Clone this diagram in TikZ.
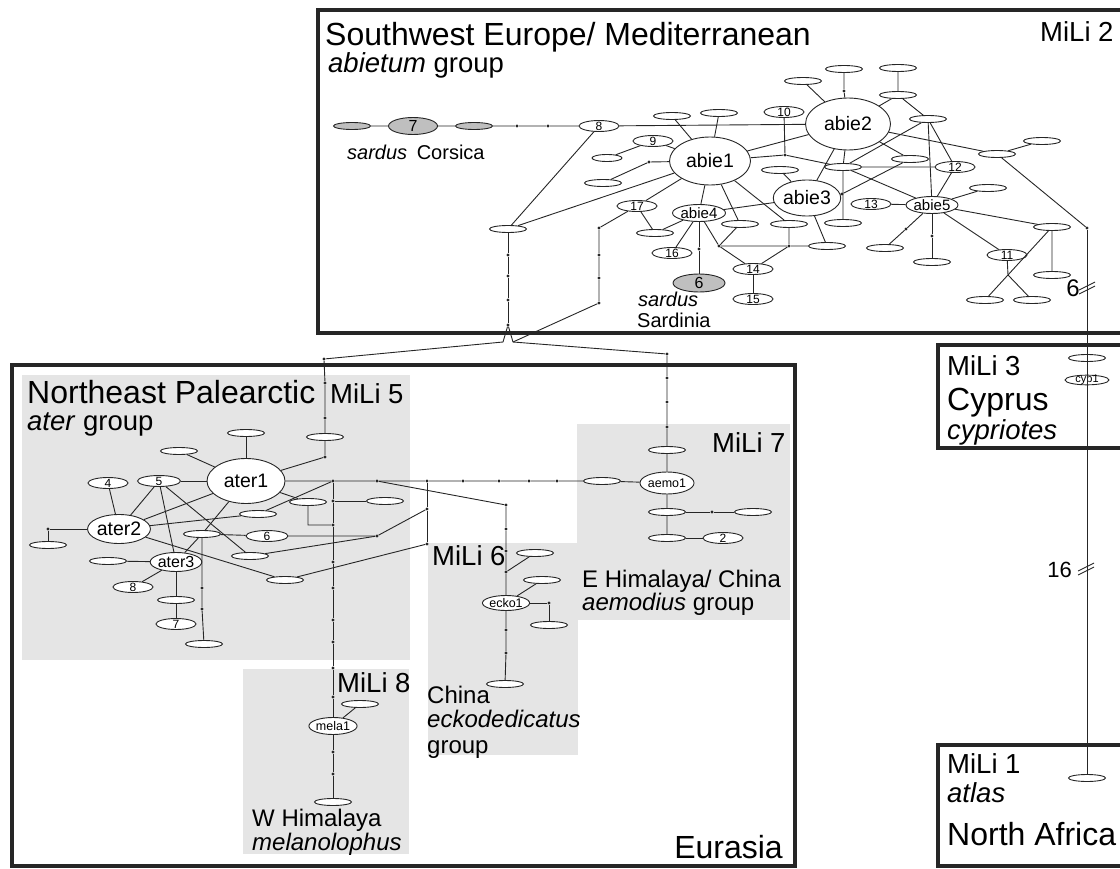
\documentclass[tikz,border=0pt]{standalone}
\usepackage{fontspec}
\setmainfont{Liberation Sans}
\usetikzlibrary{shapes.geometric}

\begin{document}
\begin{tikzpicture}[
  x=1pt, y=-1pt,
  lnk/.style={line width=0.9pt, draw=black!85},
  hap/.style={draw=black!85, ellipse, line width=0.9pt, fill=white, inner sep=0pt,
              minimum width=37pt, minimum height=7pt, font=\fontsize{12}{12}\selectfont},
  nhap/.style={hap, minimum width=40pt, minimum height=11pt, inner sep=-1pt},
  sard/.style={hap, fill=gray!50},
  bighap/.style={hap, font=\fontsize{19.5}{20}\selectfont},
  midhap/.style={hap, font=\fontsize{15}{15}\selectfont},
  smallhap/.style={hap, font=\fontsize{12.5}{13}\selectfont},
  dot/.style={circle, fill=black!85, inner sep=0pt, minimum size=3.2pt},
  frame/.style={line width=3.5pt, draw=black!85},
  zone/.style={fill=gray!20, draw=none},
  ttl/.style={anchor=base west, inner sep=0pt, font=\fontsize{32}{32}\selectfont},
  sub/.style={anchor=base west, inner sep=0pt, font=\fontsize{27.5}{28}\selectfont},
  reg/.style={anchor=base west, inner sep=0pt, font=\fontsize{24}{24}\selectfont},
  lab/.style={anchor=base west, inner sep=0pt, font=\fontsize{20}{20}\selectfont}
]
\useasboundingbox (0,0) rectangle (1120,869);
\clip (0,0) rectangle (1120,869);

% shaded groups and frames
\fill[zone] (22,375) rectangle (410,660);
\fill[zone] (577,424) rectangle (790,620);
\fill[zone] (428,543) rectangle (578,755);
\fill[zone] (243,669) rectangle (409,854);
\draw[frame] (318,10) rectangle (1140,333);
\draw[frame] (12,365) rectangle (795,866);
\draw[frame] (938,345) rectangle (1140,448);
\draw[frame] (938,745) rectangle (1140,866);

% labels
\node[ttl] (tSW) at (325,46) {Southwest Europe/ Mediterranean};
\node[sub] (tSWg) at (328,73) {\textit{abietum} group};
\node[sub] (tM2) at (1040,42) {MiLi 2};
\node[lab] (tCo) at (347,160) {\textit{sardus}\hspace{4pt} Corsica};
\node[lab] (tSa) at (638,306) {\textit{sardus}};
\node[lab] (tSb) at (637,327) {Sardinia};
\node[ttl] (tNE) at (27,403) {Northeast Palearctic};
\node[sub] (tM5) at (330,403) {MiLi 5};
\node[sub] (tNEg) at (27,430) {\textit{ater} group};
\node[sub] (tM7) at (712,452) {MiLi 7};
\node[sub] (tM6) at (432,565) {MiLi 6};
\node[reg] (tEH) at (582,587) {E Himalaya/ China};
\node[reg] (tEHg) at (582,610) {\textit{aemodius} group};
\node[reg] (tCh) at (427,703) {China};
\node[reg] (tChb) at (427,727) {\textit{eckodedicatus}};
\node[reg] (tChc) at (427,753) {group};
\node[sub] (tM8) at (337,692) {MiLi 8};
\node[reg] (tWH) at (252,826) {W Himalaya};
\node[reg] (tWHb) at (252,850) {\textit{melanolophus}};
\node[ttl, anchor=base east] (tEu) at (783,858) {Eurasia};
\node[sub] (tM3) at (947,375) {MiLi 3};
\node[ttl] (tCy) at (947,410) {Cyprus};
\node[sub] (tCyb) at (947,439) {\textit{cypriotes}};
\node[sub] (tM1) at (947,773) {MiLi 1};
\node[sub] (tM1b) at (947,802) {\textit{atlas}};
\node[ttl] (tNA) at (947,845) {North Africa};

% abietum network
\node[sard] (c1) at (352,126) {};
\node[sard, minimum width=49pt, minimum height=17pt, font=\fontsize{16}{16}\selectfont] (c7) at (413,126) {7};
\node[sard] (c2) at (474,126) {};
\node[dot] (cd1) at (517,126) {};
\node[dot] (cd2) at (548,126) {};
\node[nhap] (n8) at (599,126) {8};
\node[hap] (eA) at (508,229) {};
\node[bighap, minimum width=81pt, minimum height=48pt] (ab1) at (710,161) {abie1};
\node[bighap, minimum width=85pt, minimum height=52pt] (ab2) at (848,124) {abie2};
\node[bighap, minimum width=67pt, minimum height=36pt] (ab3) at (807,198) {abie3};
\node[midhap, minimum width=53pt, minimum height=17pt] (ab4) at (699,213) {abie4};
\node[midhap, minimum width=51pt, minimum height=17pt] (ab5) at (932,205) {abie5};
\node[nhap] (n9) at (653,141) {9};
\node[hap, minimum width=30pt] (eB) at (607,158) {};
\node[hap] (eC) at (603,183) {};
\node[dot] (dC) at (649,162) {};
\node[nhap] (n17) at (637,206) {17};
\node[hap] (eD) at (655,233) {};
\node[nhap] (n16) at (672,253) {16};
\node[dot] (d6) at (699,249) {};
\node[sard, minimum width=52pt, minimum height=18pt, font=\fontsize{16}{16}\selectfont] (s6) at (699,283) {6};
\node[hap] (eE) at (740,224) {};
\node[hap] (eF) at (789,224) {};
\node[dot] (jL) at (719,246) {};
\node[dot] (jR) at (789,246) {};
\node[hap] (eG) at (827,246) {};
\node[nhap] (n14) at (753,269) {14};
\node[nhap] (n15) at (753,299) {15};
\node[hap] (eH) at (672,116) {};
\node[hap] (eI) at (719,113) {};
\node[nhap] (n10) at (784,112) {10};
\node[dot] (d10) at (785,155) {};
\node[hap] (eJ) at (843,167) {};
\node[hap] (eK) at (780,170) {};
\node[hap] (eL) at (803,81) {};
\node[hap] (eM) at (844,69) {};
\node[dot] (dM) at (844,91) {};
\node[hap] (eN) at (898,68) {};
\node[hap] (eO) at (898,95) {};
\node[hap] (eP) at (928,119) {};
\node[nhap] (n12) at (955,167) {12};
\node[hap] (eQ) at (843,223) {};
\node[hap] (eR) at (910,159) {};
\node[dot] (dS) at (842,194) {};
\node[hap] (eT) at (997,154) {};
\node[hap] (eU) at (1042,141) {};
\node[dot] (dV) at (1087,228) {};
\node[nhap] (n13) at (871,204) {13};
\node[hap] (eW) at (988,188) {};
\node[hap] (eX) at (1052,227) {};
\node[hap] (eX2) at (1052,275) {};
\node[nhap] (n11) at (1007,255) {11};
\coordinate (j11) at (1008,275);
\node[hap] (eY) at (885,248) {};
\node[dot] (dY) at (906,229) {};
\node[hap] (eZ) at (932,262) {};
\node[dot] (dZ) at (932,236) {};
\node[hap] (eBL) at (985,300) {};
\node[hap] (eBR) at (1032,300) {};

% links between the groups
\node[dot] (dA1) at (508,255) {};
\node[dot] (dA2) at (508,276) {};
\node[dot] (dA3) at (508,300) {};
\node[dot] (dA4) at (508,325) {};
\node[dot] (dR1) at (599,228) {};
\node[dot] (dR2) at (599,255) {};
\node[dot] (dR3) at (599,278) {};
\node[dot] (dR4) at (599,303) {};
\coordinate (fL) at (503,342);
\coordinate (fR) at (513,342);
\node[dot] (pL) at (324,359) {};
\node[dot] (pR) at (667,354) {};
\node[dot] (dP1) at (325,383) {};
\node[dot] (dP2) at (325,418) {};
\node[hap] (e5a) at (325,437) {};
\node[dot] (dP3) at (325,457) {};
\node[dot] (dQ1) at (667,378) {};
\node[dot] (dQ2) at (667,402) {};
\node[dot] (dQ3) at (667,427) {};

% aemodius
\node[hap] (e7a) at (667,450) {};
\node[smallhap, minimum width=54pt, minimum height=22pt] (am1) at (667,483) {aemo1};
\node[hap] (e7b) at (667,512) {};
\node[hap] (e7c) at (667,538) {};
\node[dot] (dQ4) at (712,512) {};
\node[hap] (e7d) at (753,512) {};
\node[nhap] (n2) at (723,538) {2};
\node[hap] (e7e) at (602,481) {};
\node[dot] (dH1) at (557,481) {};
\node[dot] (dH2) at (529,481) {};
\node[dot] (dH3) at (499,481) {};
\node[dot] (dH4) at (463,481) {};
\node[dot] (j427) at (427,481) {};
\node[dot] (j377) at (377,481) {};
\node[dot] (j333) at (333,481) {};

% ater
\node[bighap, minimum width=78pt, minimum height=45pt] (at1) at (246,481) {ater1};
\node[bighap, minimum width=60pt, minimum height=29pt] (at2) at (119,529) {ater2};
\node[hap, font=\fontsize{16}{16}\selectfont, minimum width=51pt, minimum height=19pt] (at3) at (176,562) {ater3};
\node[hap] (e5b) at (246,433) {};
\node[hap] (e5c) at (179,451) {};
\node[nhap, minimum width=43pt] (n5) at (159,481) {5};
\node[nhap] (n4) at (108,483) {4};
\node[hap] (e5d) at (250,556) {};
\node[hap] (e5e) at (258,514) {};
\node[dot] (jW) at (48,529) {};
\node[hap] (e5f) at (48,545) {};
\node[hap] (e5g) at (285,580) {};
\node[hap] (e5h) at (108,561) {};
\node[nhap] (n8b) at (133,587) {8};
\node[hap] (e5i) at (176,600) {};
\node[nhap] (n7b) at (176,624) {7};
\node[hap] (e5j) at (202,534) {};
\node[dot] (dJ1) at (202,588) {};
\node[dot] (dJ2) at (202,609) {};
\node[hap] (e5k) at (204,644) {};
\node[nhap, minimum width=42pt] (n6b) at (267,536) {6};
\node[dot] (dK) at (377,536) {};
\node[dot] (dK2) at (427,509) {};
\node[dot] (dK3) at (427,544) {};
\node[hap] (e5l) at (385,501) {};
\node[hap] (e5m) at (308,502) {};
\coordinate (jM) at (308,525);

% melanolophus
\node[dot] (dV1) at (333,501) {};
\node[dot] (dV2) at (333,525) {};
\node[dot] (dV3) at (333,562) {};
\node[dot] (dV4) at (333,588) {};
\node[dot] (dV5) at (333,620) {};
\node[dot] (dV6) at (333,642) {};
\node[dot] (dV7) at (333,668) {};
\node[dot] (dV8) at (333,697) {};
\node[smallhap, minimum width=44pt, minimum height=17pt] (ml1) at (333,726) {mela1};
\node[dot] (dV9) at (333,752) {};
\node[dot] (dV10) at (333,774) {};
\node[hap] (e8a) at (333,802) {};
\node[hap] (e8b) at (360,704) {};

% eckodedicatus
\node[dot] (dE0) at (506,505) {};
\node[dot] (dE1) at (506,529) {};
\node[dot] (dE2) at (506,551) {};
\node[dot] (dE3) at (506,572) {};
\node[smallhap, minimum width=44pt, minimum height=15pt] (ec1) at (506,603) {ecko1};
\node[hap] (e6a) at (535,553) {};
\node[hap] (e6b) at (542,580) {};
\node[dot] (jE) at (549,603) {};
\node[hap] (e6c) at (549,625) {};
\node[dot] (dE4) at (506,630) {};
\node[dot] (dE5) at (506,653) {};
\node[hap] (e6d) at (505,684) {};

% cypriotes and atlas
\node[hap] (cy0) at (1087,358) {};
\node[hap, minimum width=44pt, minimum height=9pt, inner sep=-1.5pt, font=\fontsize{11}{11}\selectfont] (cy1) at (1087,380) {cyp1};
\node[hap] (na1) at (1087,778) {};
\coordinate (m6) at (1087,287);
\coordinate (m16) at (1087,568);
\node[reg, anchor=base east] (t6) at (1080,297) {6};
\node[reg, anchor=base east, font=\fontsize{22}{22}\selectfont] (t16) at (1072,577) {16};

% connections
\draw[lnk] (c1) -- (c7) -- (c2) -- (cd1) -- (cd2) -- (n8) -- (ab2);
\draw[lnk] (n8) -- (eA) -- (ab1);
\draw[lnk] (eA) -- (dA1) -- (dA2) -- (dA3) -- (dA4);
\draw[lnk] (dA4) -- (fL) -- (pL) -- (dP1) -- (dP2) -- (e5a) -- (dP3) -- (at1);
\draw[lnk] (dA4) -- (fR) -- (pR) -- (dQ1) -- (dQ2) -- (dQ3) -- (e7a) -- (am1) -- (e7b) -- (e7c);
\draw[lnk] (n17) -- (dR1) -- (dR2) -- (dR3) -- (dR4) -- (fR);
\draw[lnk] (eB) -- (n9) -- (ab1);
\draw[lnk] (eC) -- (dC) -- (ab1);
\draw[lnk] (ab1) -- (n17) -- (eD) -- (ab4);
\draw[lnk] (ab1) -- (ab4) -- (n16);
\draw[lnk] (ab4) -- (d6) -- (s6);
\draw[lnk] (ab4) -- (ab3);
\draw[lnk] (ab4) -- (jL);
\draw[lnk] (ab1) -- (eE) -- (jL);
\draw[lnk] (ab1) -- (eF) -- (jR);
\draw[lnk] (jL) -- (jR) -- (eG) -- (ab3);
\draw[lnk] (jL) -- (n14) -- (jR);
\draw[lnk] (n14) -- (n15);
\draw[lnk] (eH) -- (ab1);
\draw[lnk] (eI) -- (ab1);
\draw[lnk] (n10) -- (d10);
\draw[lnk] (ab1) -- (d10) -- (eJ);
\draw[lnk] (eK) -- (ab3);
\draw[lnk] (ab1) -- (ab2);
\draw[lnk] (eL) -- (ab2);
\draw[lnk] (eM) -- (dM) -- (ab2);
\draw[lnk] (eN) -- (eO) -- (ab2);
\draw[lnk] (eO) -- (eP) -- (ab5);
\draw[lnk] (eP) -- (n12);
\draw[lnk] (eP) -- (eJ);
\draw[lnk] (ab2) -- (eJ) -- (eQ);
\draw[lnk] (ab2) -- (ab3);
\draw[lnk] (ab2) -- (eR) -- (dS) -- (ab3);
\draw[lnk] (eJ) -- (n12) -- (ab5);
\draw[lnk] (eJ) -- (ab5);
\draw[lnk] (ab2) -- (eT) -- (eU);
\draw[lnk] (eT) -- (dV);
\draw[lnk] (n13) -- (ab5) -- (eW);
\draw[lnk] (ab5) -- (eX) -- (eX2);
\draw[lnk] (eX) -- (eBL);
\draw[lnk] (ab5) -- (n11) -- (j11) -- (eBR);
\draw[lnk] (ab5) -- (dY) -- (eY);
\draw[lnk] (ab5) -- (dZ) -- (eZ);
\draw[lnk] (dV) -- (na1.north);
\draw[lnk] ([shift={(-8,3)}]m6) -- ([shift={(8,-5)}]m6);
\draw[lnk] ([shift={(-8,7)}]m6) -- ([shift={(8,-1)}]m6);
\draw[lnk] ([shift={(-9,3)}]m16) -- ([shift={(7,-5)}]m16);
\draw[lnk] ([shift={(-9,7)}]m16) -- ([shift={(7,-1)}]m16);

\draw[lnk] (at1) -- (j333) -- (j377) -- (j427) -- (dH4) -- (dH3) -- (dH2) -- (dH1) -- (e7e) -- (am1);
\draw[lnk] (e7b) -- (dQ4) -- (e7d);
\draw[lnk] (e7c) -- (n2);

\draw[lnk] (e5b) -- (at1);
\draw[lnk] (e5c) -- (at1);
\draw[lnk] (n5) -- (at1);
\draw[lnk] (n4) -- (at2);
\draw[lnk] (n5) -- (at2);
\draw[lnk] (n5) -- (at3);
\draw[lnk] (n5) -- (e5d);
\draw[lnk] (at1) -- (at2);
\draw[lnk] (at2) -- (e5e) -- (j333);
\draw[lnk] (at2) -- (jW) -- (e5f);
\draw[lnk] (at2) -- (e5g) -- (dK3);
\draw[lnk] (at3) -- (e5h);
\draw[lnk] (at3) -- (n8b);
\draw[lnk] (at3) -- (e5i) -- (n7b);
\draw[lnk] (at1) -- (e5j) -- (at3);
\draw[lnk] (e5j) -- (dJ1) -- (dJ2) -- (e5k);
\draw[lnk] (e5j) -- (n6b) -- (dK) -- (dK2);
\draw[lnk] (e5d) -- (dK);
\draw[lnk] (j427) -- (dK2) -- (dK3);
\draw[lnk] (j333) -- (dV1) -- (dV2) -- (dV3) -- (dV4) -- (dV5) -- (dV6) -- (dV7) -- (dV8) -- (ml1)
  -- (dV9) -- (dV10) -- (e8a);
\draw[lnk] (dV1) -- (e5l);
\draw[lnk] (at1) -- (e5m) -- (jM) -- (dV2);
\draw[lnk] (ml1) -- (e8b);
\draw[lnk] (j377) -- (dE0) -- (dE1) -- (dE2) -- (dE3) -- (ec1) -- (dE4) -- (dE5) -- (e6d);
\draw[lnk] (dE3) -- (e6a);
\draw[lnk] (ec1) -- (e6b);
\draw[lnk] (ec1) -- (jE) -- (e6c);
\end{tikzpicture}
\end{document}
